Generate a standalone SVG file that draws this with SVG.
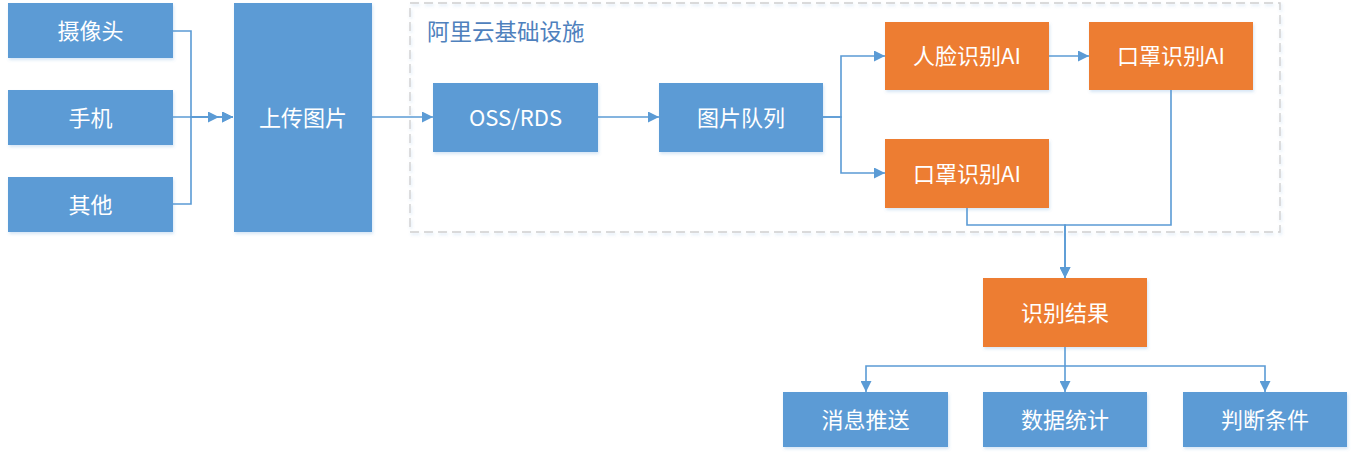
<svg xmlns="http://www.w3.org/2000/svg" width="1357" height="457" viewBox="0 0 1357 457">
<style>
.b{fill:#5b9bd5;filter:url(#sh)}
.o{fill:#ed7d31;filter:url(#sh)}
.t{fill:#fff;font-family:"Noto Sans CJK SC","Noto Sans",sans-serif;font-size:22px;text-anchor:middle;dominant-baseline:central}
.c{fill:none;stroke:#5b9bd5;stroke-width:1.6}
.a{marker-end:url(#ah)}
</style>
<defs>
<marker id="ah" viewBox="0 0 10 10" refX="10" refY="5" markerWidth="11" markerHeight="11" markerUnits="userSpaceOnUse" orient="auto">
<path d="M0,0 L10,5 L0,10 Z" fill="#5b9bd5"/>
</marker>
<filter id="sh" x="-10%" y="-10%" width="120%" height="130%">
<feDropShadow dx="1" dy="2" stdDeviation="1.5" flood-color="#5b9bd5" flood-opacity="0.25"/>
</filter>
</defs>
<rect width="1357" height="457" fill="#fff"/>
<g id="cloud">
<rect x="410" y="3" width="870" height="229" fill="none" stroke="#d0d0d0" stroke-width="1.4" stroke-dasharray="9,5" filter="url(#sh)"/>
<text x="427" y="30" font-family="'Noto Sans CJK SC',sans-serif" font-size="22.5" fill="#4f81bd" dominant-baseline="central">阿里云基础设施</text>
</g>
<g id="connectors">
<path class="c a" d="M173,31 H191 V117 H233"/>
<path class="c a" d="M173,204 H191 V117 H233"/>
<path class="c a" d="M173,117 H219"/>
<path class="c a" d="M372,117 H433"/>
<path class="c a" d="M598,117 H659"/>
<path class="c a" d="M823,117 H841 V56 H885"/>
<path class="c a" d="M823,117 H841 V173 H885"/>
<path class="c a" d="M1049,56 H1089"/>
<path class="c a" d="M967,208 V225 H1065 V278"/>
<path class="c a" d="M1171,90 V225 H1065 V278"/>
<path class="c a" d="M1065,347 V392"/>
<path class="c a" d="M1065,366 H866 V392"/>
<path class="c a" d="M1065,366 H1265 V392"/>
</g>
<g id="camera"><rect class="b" x="8" y="3" width="165" height="55"/><text class="t" x="90.5" y="28.5">摄像头</text></g>
<g id="phone"><rect class="b" x="8" y="90" width="165" height="55"/><text class="t" x="90.5" y="115.5">手机</text></g>
<g id="other"><rect class="b" x="8" y="177" width="165" height="55"/><text class="t" x="90.5" y="202.5">其他</text></g>
<g id="upload"><rect class="b" x="234" y="3" width="138" height="229"/><text class="t" x="303" y="115.5">上传图片</text></g>
<g id="oss"><rect class="b" x="433" y="83" width="165" height="69"/><text class="t" x="515.5" y="115.5">OSS/RDS</text></g>
<g id="queue"><rect class="b" x="659" y="83" width="164" height="69"/><text class="t" x="741" y="115.5">图片队列</text></g>
<g id="face"><rect class="o" x="885" y="22" width="164" height="68"/><text class="t" x="967" y="54">人脸识别AI</text></g>
<g id="mask1"><rect class="o" x="1089" y="22" width="164" height="68"/><text class="t" x="1171" y="54">口罩识别AI</text></g>
<g id="mask2"><rect class="o" x="885" y="139" width="164" height="69"/><text class="t" x="967" y="171.5">口罩识别AI</text></g>
<g id="result"><rect class="o" x="983" y="278" width="164" height="69"/><text class="t" x="1065" y="310.5">识别结果</text></g>
<g id="push"><rect class="b" x="783" y="392" width="165" height="55"/><text class="t" x="865.5" y="417.5">消息推送</text></g>
<g id="stats"><rect class="b" x="983" y="392" width="164" height="55"/><text class="t" x="1065" y="417.5">数据统计</text></g>
<g id="cond"><rect class="b" x="1183" y="392" width="164" height="55"/><text class="t" x="1265" y="417.5">判断条件</text></g>
</svg>
